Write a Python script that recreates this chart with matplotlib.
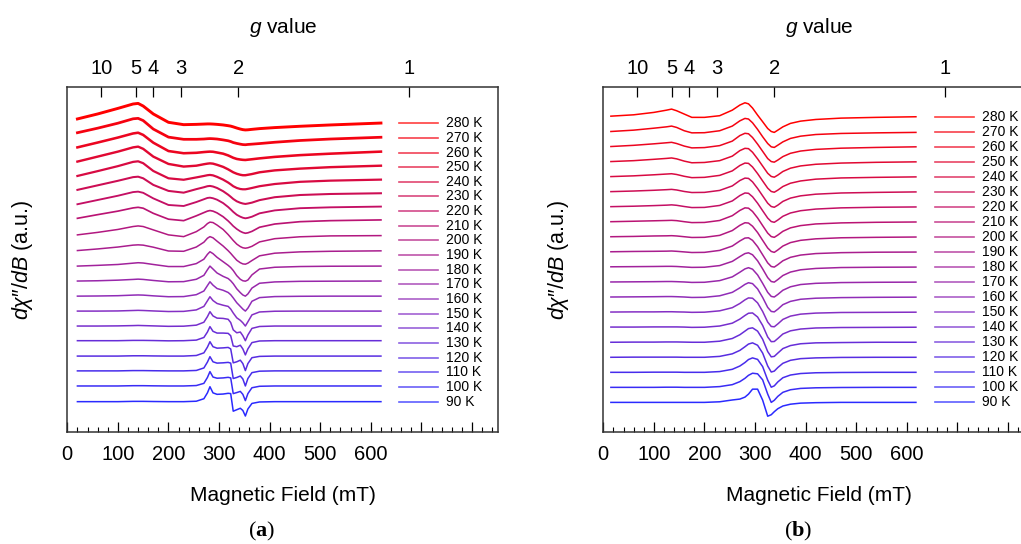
import numpy as np
import matplotlib
matplotlib.use("Agg")
import matplotlib.pyplot as plt
from matplotlib.colors import LinearSegmentedColormap
from matplotlib.ticker import MultipleLocator

plt.rcParams["font.family"] = ["Liberation Sans", "DejaVu Sans"]
plt.rcParams["mathtext.fontset"] = "custom"
plt.rcParams["mathtext.rm"] = "Liberation Sans"
plt.rcParams["mathtext.it"] = "Liberation Sans:italic"
plt.rcParams["mathtext.bf"] = "Liberation Serif:bold"

TEMPS = [280, 270, 260, 250, 240, 230, 220, 210, 200, 190,
         180, 170, 160, 150, 140, 130, 120, 110, 100, 90]
G_TICKS = [10, 5, 4, 3, 2, 1]
FREQ_GHZ = 9.45  # X-band, sets g -> field conversion

# field grid (mT) and deviations from each trace's stack offset (offset units)
FIELD_A = [20, 60, 100, 130, 140, 150, 170, 200, 230, 255, 270, 277, 282, 288, 296,
           308, 318, 323, 328, 335, 342, 347, 352, 357, 365, 380, 410, 460, 520, 620]
SPEC_A = [
    [.29, .63, 1.01, 1.31, 1.35, 1.17, .63, .06, -.1, -.08, -.06, -.05, -.05, -.06, -.08,
     -.12, -.17, -.2, -.25, -.33, -.4, -.44, -.46, -.45, -.42, -.37, -.3, -.21, -.12, .01],
    [.35, .66, 1.0, 1.3, 1.33, 1.18, .6, .05, -.1, -.1, -.08, -.06, -.05, -.06, -.08,
     -.14, -.2, -.25, -.32, -.38, -.43, -.46, -.47, -.45, -.43, -.39, -.3, -.18, -.08, .04],
    [.35, .68, 1.02, 1.3, 1.35, 1.2, .67, .1, -.05, -.02, .03, .05, .06, .05, .0,
     -.08, -.2, -.28, -.36, -.44, -.48, -.5, -.51, -.49, -.46, -.4, -.3, -.18, -.08, .06],
    [.38, .72, 1.06, 1.35, 1.4, 1.25, .72, .22, .04, .1, .2, .24, .26, .24, .16,
     .02, -.15, -.25, -.35, -.45, -.52, -.55, -.55, -.52, -.47, -.35, -.22, -.1, .0, .1],
    [.4, .73, 1.07, 1.36, 1.4, 1.27, .74, .24, .14, .3, .4, .45, .47, .44, .34,
     .15, -.05, -.17, -.3, -.42, -.49, -.51, -.51, -.48, -.42, -.3, -.15, .0, .08, .15],
    [.45, .76, 1.07, 1.32, 1.35, 1.24, .79, .38, .26, .5, .63, .7, .72, .68, .58,
     .36, .12, -.02, -.17, -.33, -.43, -.48, -.51, -.48, -.42, -.25, -.05, .1, .17, .22],
    [.47, .76, 1.05, 1.3, 1.33, 1.25, .87, .42, .35, .62, .81, .9, .92, .88, .78,
     .55, .28, .12, -.05, -.25, -.38, -.45, -.49, -.46, -.38, -.15, .05, .2, .26, .31],
    [.51, .76, 1.0, 1.22, 1.26, 1.2, .85, .45, .35, .68, .9, 1.0, 1.04, 1.0, .88,
     .62, .33, .16, -.02, -.22, -.38, -.46, -.51, -.48, -.38, -.1, .12, .28, .35, .4],
    [.38, .55, .75, .95, .99, .95, .72, .38, .26, .6, .92, 1.15, 1.25, 1.22, 1.05,
     .75, .4, .2, .0, -.25, -.42, -.5, -.53, -.5, -.4, -.1, .12, .25, .31, .33],
    [.31, .42, .55, .68, .7, .68, .54, .28, .26, .55, .88, 1.15, 1.26, 1.18, .95,
     .62, .3, .12, -.08, -.35, -.52, -.6, -.62, -.55, -.37, -.05, .13, .22, .26, .29],
    [.25, .3, .36, .45, .48, .46, .36, .22, .22, .42, .72, 1.05, 1.23, 1.1, .85,
     .55, .3, .15, -.05, -.4, -.65, -.75, -.78, -.7, -.35, .05, .17, .22, .24, .25],
    [.23, .25, .29, .34, .36, .34, .27, .18, .19, .35, .62, 1.0, 1.25, 1.05, .78,
     .55, .4, .25, .05, -.3, -.56, -.72, -.8, -.65, -.25, .08, .17, .21, .22, .23],
    [.2, .21, .23, .27, .28, .27, .22, .16, .17, .3, .55, .92, 1.18, .95, .72,
     .6, .45, .3, .08, -.25, -.5, -.68, -.82, -.62, -.15, .1, .17, .19, .2, .2],
    [.18, .18, .19, .22, .23, .22, .19, .15, .16, .26, .5, .88, 1.16, .9, .7,
     .58, .5, .32, .05, -.28, -.45, -.62, -.84, -.55, -.08, .12, .17, .18, .18, .18],
    [.16, .16, .17, .19, .2, .19, .17, .14, .15, .22, .42, .8, 1.14, .85, .7,
     .68, .62, .4, -.1, -.3, -.25, -.5, -.84, -.45, .0, .13, .16, .16, .16, .16],
    [.16, .16, .16, .18, .18, .18, .17, .15, .16, .2, .38, .75, 1.12, .8, .68,
     .68, .66, .5, -.2, -.25, -.15, -.4, -.81, -.4, .03, .14, .16, .16, .16, .16],
    [.11, .11, .11, .13, .13, .13, .12, .11, .11, .15, .33, .72, 1.09, .75, .65,
     .67, .7, .6, -.35, -.28, -.17, -.4, -.88, -.4, .0, .09, .11, .11, .11, .11],
    [.1, .1, .1, .12, .12, .12, .11, .1, .1, .13, .3, .7, 1.07, .72, .63,
     .65, .68, .63, -.42, -.35, -.25, -.45, -.93, -.42, -.02, .08, .1, .1, .1, .1],
    [.07, .07, .07, .09, .09, .09, .08, .07, .07, .1, .25, .65, 1.05, .68, .6,
     .62, .66, .62, -.45, -.38, -.3, -.5, -.93, -.45, -.05, .05, .07, .07, .07, .07],
    [0, 0, 0, .02, .02, .02, .01, 0, 0, .03, .2, .6, 1.02, .6, .5,
     .52, .57, .55, -.65, -.55, -.45, -.6, -.98, -.5, -.12, -.02, 0, 0, 0, 0],
]

FIELD_B = [15, 60, 100, 125, 135, 145, 160, 175, 200, 230, 255, 270, 280, 287,
           295, 305, 315, 325, 332, 338, 345, 355, 370, 390, 420, 470, 540, 618]
SPEC_B = [
    [.04, .13, .29, .44, .51, .4, .18, -.04, -.04, .07, .44, .78, .93, .86,
     .58, .11, -.33, -.78, -.98, -1.04, -.89, -.67, -.44, -.29, -.18, -.09, -.04, 0],
    [.02, .11, .24, .33, .38, .29, .07, -.07, -.06, .07, .38, .73, .89, .85,
     .6, .16, -.33, -.78, -1.0, -1.04, -.89, -.67, -.44, -.29, -.18, -.11, -.07, -.04],
    [.02, .1, .2, .27, .3, .22, .05, -.07, -.05, .08, .38, .75, .9, .87,
     .62, .18, -.3, -.78, -.98, -1.02, -.88, -.65, -.43, -.28, -.17, -.09, -.04, 0],
    [.02, .08, .17, .23, .26, .2, .05, -.06, -.04, .08, .38, .75, .9, .88,
     .64, .2, -.28, -.76, -.97, -1.02, -.88, -.64, -.42, -.27, -.16, -.08, -.03, 0],
    [.02, .07, .14, .19, .21, .16, .04, -.05, -.03, .1, .4, .76, .92, .9,
     .66, .22, -.27, -.75, -.97, -1.02, -.88, -.64, -.42, -.27, -.15, -.07, -.03, 0],
    [.02, .06, .11, .15, .17, .13, .03, -.04, -.03, .1, .4, .76, .92, .9,
     .67, .23, -.26, -.75, -.97, -1.02, -.88, -.63, -.41, -.26, -.15, -.07, -.03, 0],
    [.02, .05, .09, .12, .14, .11, .03, -.04, -.03, .1, .4, .76, .93, .91,
     .68, .25, -.25, -.74, -.97, -1.02, -.87, -.62, -.4, -.25, -.14, -.06, -.02, 0],
    [.02, .05, .08, .1, .11, .09, .02, -.04, -.03, .1, .42, .77, .94, .92,
     .7, .27, -.24, -.74, -.97, -1.02, -.87, -.62, -.39, -.24, -.13, -.06, -.02, 0],
    [.02, .04, .07, .08, .09, .07, .02, -.03, -.02, .11, .43, .78, .95, .93,
     .72, .3, -.22, -.73, -.96, -1.02, -.86, -.6, -.37, -.22, -.12, -.05, -.02, 0],
    [.02, .04, .05, .06, .07, .05, .01, -.03, -.02, .11, .4, .74, .93, .95,
     .78, .36, -.18, -.72, -.96, -1.0, -.84, -.58, -.35, -.2, -.1, -.04, -.01, 0],
    [.02, .03, .04, .05, .05, .04, .01, -.02, -.01, .1, .38, .7, .9, .95,
     .82, .42, -.12, -.7, -.96, -1.0, -.83, -.56, -.33, -.18, -.09, -.03, -.01, 0],
    [.01, .02, .03, .04, .04, .03, .01, -.02, -.01, .1, .35, .66, .88, .96,
     .86, .48, -.08, -.68, -.95, -.99, -.82, -.54, -.31, -.16, -.08, -.03, -.01, 0],
    [.01, .02, .03, .04, .04, .03, .01, -.02, -.01, .09, .32, .62, .85, .96,
     .9, .55, -.02, -.68, -.95, -.98, -.8, -.5, -.28, -.14, -.07, -.03, -.01, 0],
    [.01, .02, .02, .03, .03, .02, .01, -.01, .0, .09, .3, .58, .82, .95,
     .93, .62, .05, -.66, -.95, -.97, -.78, -.48, -.26, -.13, -.06, -.02, -.01, 0],
    [.01, .01, .02, .02, .02, .02, .01, -.01, .0, .08, .27, .54, .78, .93,
     .95, .68, .12, -.65, -.96, -.95, -.75, -.45, -.24, -.12, -.05, -.02, -.01, 0],
    [0, .01, .01, .02, .02, .02, .01, .0, .0, .07, .25, .5, .74, .91,
     .96, .74, .2, -.62, -.97, -.94, -.72, -.42, -.22, -.1, -.04, -.02, 0, 0],
    [0, .01, .01, .01, .01, .01, .0, .0, .0, .06, .23, .46, .7, .88,
     .96, .8, .28, -.58, -.98, -.92, -.68, -.4, -.2, -.09, -.04, -.01, 0, 0],
    [0, 0, .01, .01, .01, .01, 0, 0, 0, .05, .2, .42, .65, .85,
     .96, .86, .38, -.52, -.99, -.9, -.64, -.36, -.18, -.08, -.03, -.01, 0, 0],
    [0, 0, 0, .01, .01, .01, 0, 0, 0, .05, .18, .38, .6, .8,
     .94, .9, .5, -.45, -1.0, -.86, -.6, -.33, -.16, -.07, -.03, -.01, 0, 0],
    [0, 0, 0, 0, 0, 0, 0, 0, 0, .04, .16, .22, .35, .55,
     .88, .88, .15, -.92, -.82, -.62, -.42, -.24, -.12, -.05, -.02, 0, 0, 0],
]

cmap = LinearSegmentedColormap.from_list("rb", ["#2a2aff", "#8a2fc0", "#c0106a", "#ff0000"])
g_to_field = lambda g: 71.4477 * FREQ_GHZ / g  # mT


def panel(ax, field, spec, ylim, noisy):
    n = len(TEMPS)
    for k, (T, dev) in enumerate(zip(TEMPS, spec)):
        off = n - 1 - k
        c = cmap((T - 90) / 190)
        lw = 1.1
        if noisy and T > 200:
            lw = 1.1 + (T - 200) / 80 * 1.0
        ax.plot(field, off + np.array(dev), color=c, lw=lw, solid_joinstyle="round")
        # legend entry
        ax.plot([655, 732], [off, off], color=c, lw=1.2, alpha=0.75)
        ax.text(748, off, f"{T} K", fontsize=10, va="center", ha="left")

    ax.set_xlim(0, 852)
    ax.set_ylim(*ylim)
    ax.set_yticks([])
    ax.set_xticks(range(0, 801, 100))
    ax.set_xticklabels([str(v) if v <= 600 else "" for v in range(0, 801, 100)])
    ax.xaxis.set_minor_locator(MultipleLocator(20))
    ax.tick_params(axis="x", which="major", direction="in", length=7, width=0.9,
                   labelsize=14.5, pad=9, top=False)
    ax.tick_params(axis="x", which="minor", direction="in", length=3.5, width=0.8, top=False)
    for s in ax.spines.values():
        s.set_linewidth(1.1)
        s.set_color("#333333")
    ax.set_xlabel("Magnetic Field (mT)", fontsize=15, labelpad=16)
    ax.set_ylabel(r"$d\chi$" + "\u2033" + r"$/dB$ (a.u.)", fontsize=15.5, labelpad=23)

    top = ax.twiny()
    top.set_xlim(ax.get_xlim())
    top.set_xticks([g_to_field(g) for g in G_TICKS])
    top.set_xticklabels([str(g) for g in G_TICKS])
    top.tick_params(axis="x", direction="in", length=7, width=0.9, labelsize=14.5, pad=6)
    top.set_xlabel(r"$g$ value", fontsize=15, labelpad=19)
    for s in top.spines.values():
        s.set_visible(False)


fig = plt.figure(figsize=(10.21, 5.44), dpi=100)
ax_a = fig.add_axes([67.3 / 1021, 1 - 432 / 544, 431 / 1021, 345.3 / 544])
ax_b = fig.add_axes([603.3 / 1021, 1 - 432 / 544, 431 / 1021, 345.3 / 544])

panel(ax_a, FIELD_A, SPEC_A, (-2.07, 21.49), noisy=True)
panel(ax_b, FIELD_B, SPEC_B, (-1.97, 21.0), noisy=False)

for x, lab in [(262 / 1021, "a"), (798 / 1021, "b")]:
    fig.text(x, 1 - 531 / 544, "(" + r"$\mathbf{" + lab + "}$" + ")", fontsize=16,
             family="Liberation Serif", ha="center", va="center")

fig.savefig("out.png", dpi=100)
